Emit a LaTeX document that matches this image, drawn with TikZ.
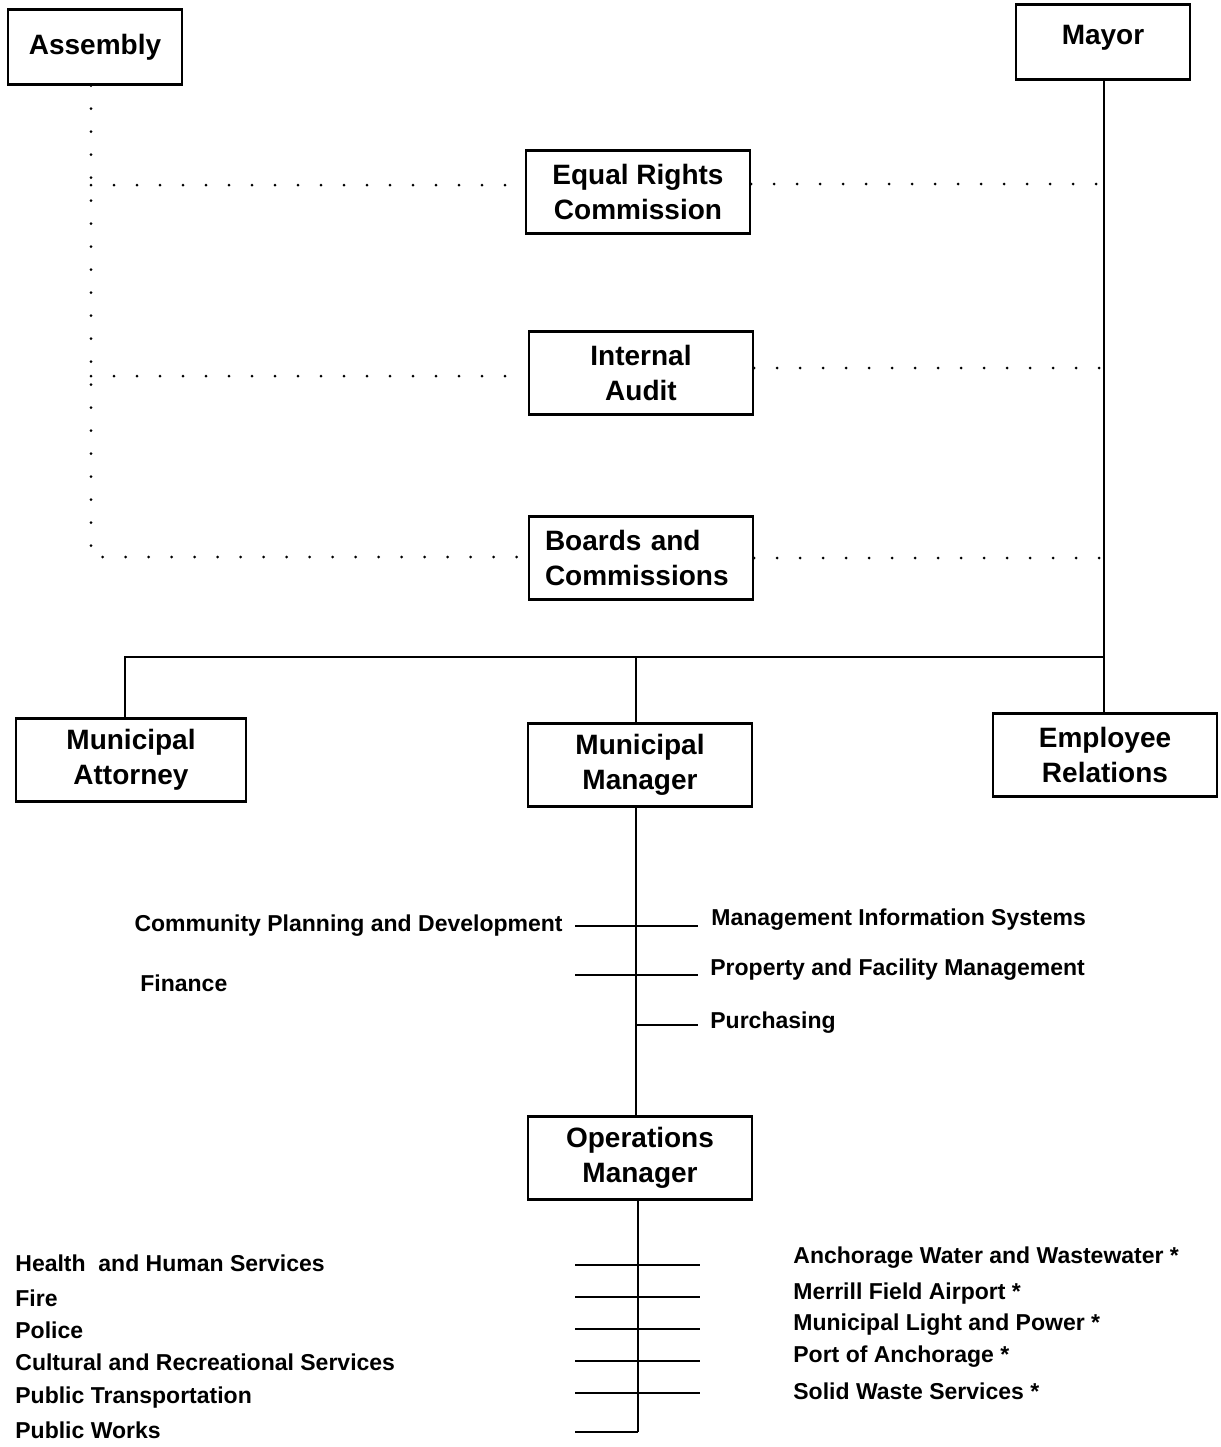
\documentclass[tikz,border=0pt]{standalone}
\usepackage{fontspec}
\setmainfont{Liberation Sans}
\usetikzlibrary{positioning}
\tikzset{
  office/.style={draw, line width=1.2pt, minimum width=112pt, minimum height=41.5pt,
    align=center, inner sep=2pt, font=\bfseries\fontsize{14}{17.5}\selectfont},
  top/.style={office, minimum width=87pt, minimum height=37.5pt},
  dept/.style={inner sep=0pt, font=\bfseries\fontsize{11.5}{13}\selectfont},
  link/.style={line width=1pt},
  loose/.style={line width=1.5pt, line cap=round, dash pattern=on 0pt off 11.5pt}
}
\begin{document}
\begin{tikzpicture}[x=0.5pt, y=-0.5pt]
\useasboundingbox (0,0) rectangle (1221,1447);
  % top level
  \node[top] (asm) at (95,47) {Assembly};
  \node[top, text depth=7pt] (mayor) at (1103,42) {Mayor};
  \node[office] (erc) at (638,192) {Equal Rights\\Commission};
  \node[office] (audit) at (641,373) {Internal\\Audit};
  \node[office, align=left, text width=96pt] (boards) at (641,558) {Boards and\\Commissions};
  \node[office, minimum width=115pt] (attorney) at (131,760) {Municipal\\Attorney};
  \node[office] (mgr) at (640,765) {Municipal\\Manager};
  \node[office] (emprel) at (1105,755) {Employee\\Relations};
  \node[office] (ops) at (640,1158) {Operations\\Manager};
  \coordinate (asmend) at (91,557);
  \coordinate (jl) at (125,657);
  \coordinate (jr) at (1104,657);
  \coordinate (ercl) at ([yshift=3.5pt]erc.west);
  \coordinate (ercr) at ([yshift=4pt]erc.east);
  \coordinate (audl) at ([yshift=-1.5pt]audit.west);
  \coordinate (audr) at ([yshift=2.5pt]audit.east);
  % dotted reporting lines
  \draw [loose] (asm.south -| asmend) to (asmend) to (boards.west |- asmend);
  \draw [loose] (ercl -| asmend) to (ercl);
  \draw [loose] (audl -| asmend) to (audl);
  \draw [loose] (ercr) to (ercr -| jr);
  \draw [loose] (audr) to (audr -| jr);
  \draw [loose] (boards.east) to (boards.east -| jr);
  % solid lines
  \draw [link] (mayor.south -| jr) to (emprel.north -| jr);
  \draw [link] (attorney.north -| jl) to (jl) to (jr);
  \draw [link] (mgr.north -| 636,0) to (636,657);
  \draw [link] (mgr.south -| 636,0) to (ops.north -| 636,0);
  \draw [link] (ops.south -| 638,0) to (638,1432);
  % municipal manager departments
  \node[dept, anchor=east] (cpd) at (563,926) {Community Planning and Development};
  \node[dept, anchor=west] (fin) at (140,983) {Finance};
  \node[dept, anchor=west] (mis) at (711,920) {Management Information Systems};
  \node[dept, anchor=west] (pfm) at (710,970) {Property and Facility Management};
  \node[dept, anchor=west] (pur) at (710,1023) {Purchasing};
  \draw [link] (575,926) to (698,926);
  \draw [link] (575,975) to (698,975);
  \draw [link] (636,1025) to (698,1025);
  % operations manager departments
  \foreach \y in {1265,1297,1329,1361,1393}
    \draw [link] (575,\y) to (700,\y);
  \draw [link] (575,1432) to (638,1432);
  \node[dept, anchor=west] (hhs) at (15,1263) {Health\ \ and Human Services};
  \node[dept, anchor=west] (fire) at (15,1298) {Fire};
  \node[dept, anchor=west] (pol) at (15,1330) {Police};
  \node[dept, anchor=west] (crs) at (15,1362) {Cultural and Recreational Services};
  \node[dept, anchor=west] (pt) at (15,1398) {Public Transportation};
  \node[dept, anchor=west] (pw) at (15,1430) {Public Works};
  \node[dept, anchor=west] (aww) at (793,1258) {Anchorage Water and Wastewater *};
  \node[dept, anchor=west] (mfa) at (793,1294) {Merrill Field Airport *};
  \node[dept, anchor=west] (mlp) at (793,1325) {Municipal Light and Power *};
  \node[dept, anchor=west] (poa) at (793,1357) {Port of Anchorage *};
  \node[dept, anchor=west] (sws) at (793,1391) {Solid Waste Services *};
\end{tikzpicture}
\end{document}
